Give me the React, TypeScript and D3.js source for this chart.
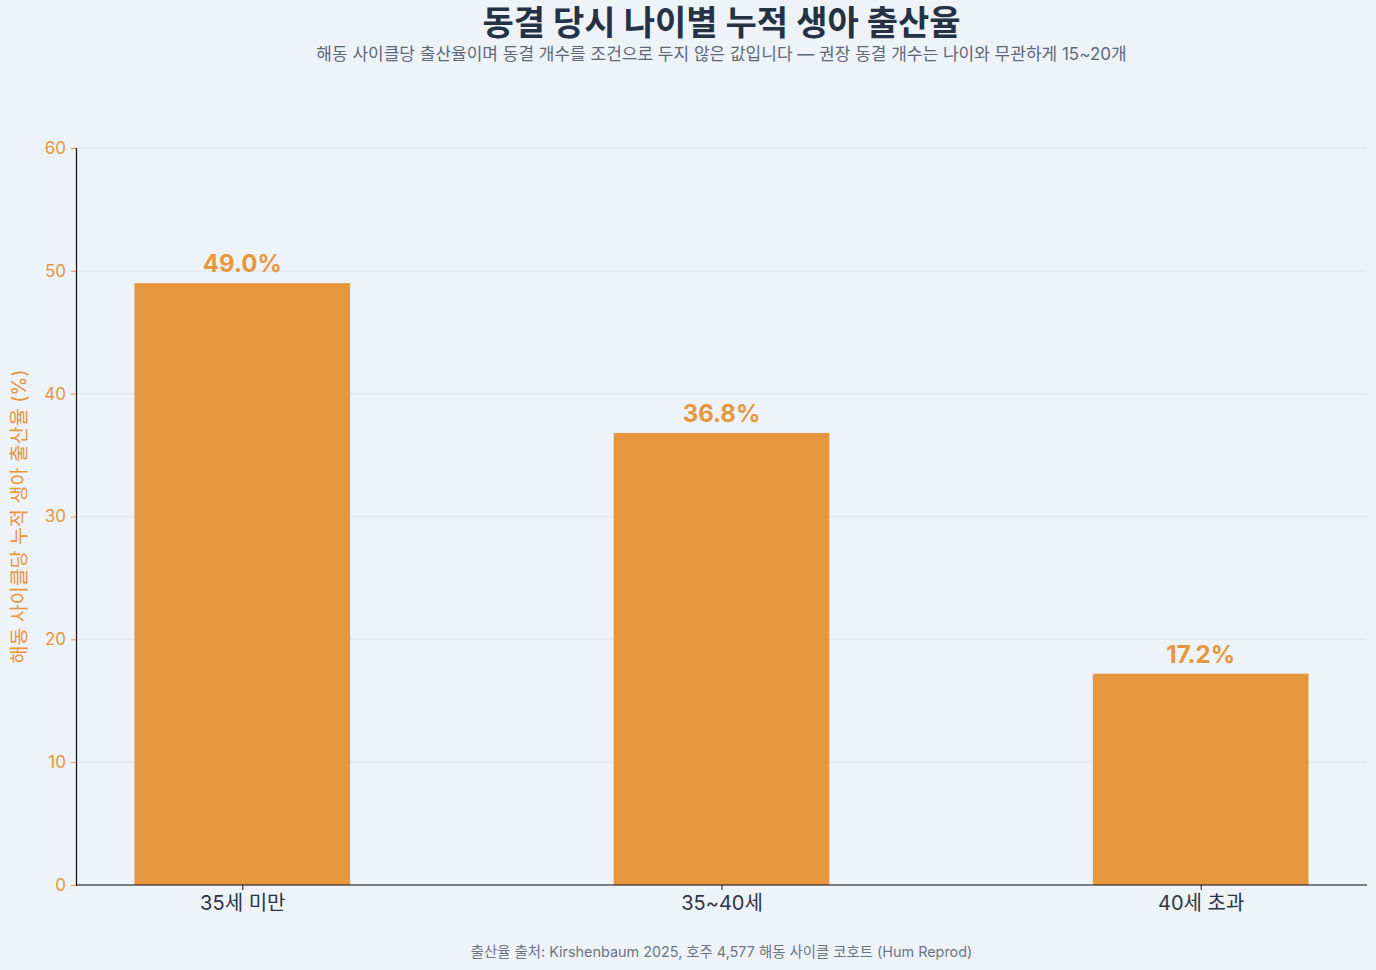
import React from 'react'
import * as d3 from 'd3'

const categories = ['35세 미만', '35~40세', '40세 초과']
const birthRates = [49.0, 36.8, 17.2]
const yTicks = [0, 10, 20, 30, 40, 50, 60]

const title = '동결 당시 나이별 누적 생아 출산율'
const subtitle = '해동 사이클당 출산율이며 동결 개수를 조건으로 두지 않은 값입니다 — 권장 동결 개수는 나이와 무관하게 15~20개'
const yLabel = '해동 사이클당 누적 생아 출산율 (%)'
const footer = '출산율 출처: Kirshenbaum 2025, 호주 4,577 해동 사이클 코호트 (Hum Reprod)'

const FONT = "Inter, 'Noto Sans CJK KR', 'Noto Sans', sans-serif"
const ORANGE = '#e6963c'

const App = () => {
  const ref = React.useRef<SVGSVGElement | null>(null)

  React.useEffect(() => {
    const width = 1376
    const height = 970
    const margin = { top: 148, right: 9, bottom: 85, left: 76 }

    const svg = d3.select(ref.current)
    svg.selectAll('*').remove()

    svg.append('rect').attr('width', width).attr('height', height).attr('fill', '#eef2f9')

    const x = d3
      .scalePoint<string>()
      .domain(categories)
      .range([margin.left, width - margin.right])
      .padding(0.347)

    const y = d3
      .scaleLinear()
      .domain([0, 60])
      .range([height - margin.bottom, margin.top])

    const barW = x.step() * 0.45
    const cx = (margin.left + width - margin.right) / 2

    // grid
    svg
      .append('g')
      .selectAll('line')
      .data(yTicks)
      .enter()
      .append('line')
      .attr('x1', margin.left)
      .attr('x2', width - margin.right)
      .attr('y1', (d) => y(d))
      .attr('y2', (d) => y(d))
      .attr('stroke', '#e1e6ef')
      .attr('stroke-width', 1)

    // bars
    svg
      .selectAll('.bar')
      .data(birthRates)
      .enter()
      .append('rect')
      .attr('class', 'bar')
      .attr('x', (d, i) => (x(categories[i]) || 0) - barW / 2)
      .attr('y', (d) => y(d))
      .attr('width', barW)
      .attr('height', (d) => y(0) - y(d))
      .attr('fill', ORANGE)

    // value labels
    svg
      .selectAll('.val')
      .data(birthRates)
      .enter()
      .append('text')
      .attr('class', 'val')
      .attr('x', (d, i) => x(categories[i]) || 0)
      .attr('y', (d) => y(d) - 11)
      .attr('text-anchor', 'middle')
      .attr('font-family', FONT)
      .attr('font-size', 24)
      .attr('font-weight', 700)
      .attr('fill', ORANGE)
      .text((d) => `${d.toFixed(1)}%`)

    // y axis
    const yAxis = svg
      .append('g')
      .attr('transform', `translate(${margin.left},0)`)
      .call(d3.axisLeft(y).tickValues(yTicks).tickSize(5).tickPadding(5))
    yAxis.select('.domain').attr('stroke', '#111').attr('stroke-width', 1.2)
    yAxis.selectAll('.tick line').attr('stroke', ORANGE)
    yAxis
      .selectAll('.tick text')
      .attr('fill', ORANGE)
      .attr('font-family', FONT)
      .attr('font-size', 17)

    // x axis
    const xAxis = svg
      .append('g')
      .attr('transform', `translate(0,${height - margin.bottom})`)
      .call(d3.axisBottom(x).tickSize(5).tickPadding(6))
    xAxis
      .select('.domain')
      .attr('d', `M${margin.left},0H${width - margin.right}`)
      .attr('stroke', '#111')
      .attr('stroke-width', 1.2)
    xAxis.selectAll('.tick line').attr('stroke', '#111')
    xAxis
      .selectAll('.tick text')
      .attr('fill', '#2a3545')
      .attr('font-family', FONT)
      .attr('font-size', 20)

    // y label
    svg
      .append('text')
      .attr('transform', `translate(26,${(y(0) + y(60)) / 2}) rotate(-90)`)
      .attr('text-anchor', 'middle')
      .attr('font-family', FONT)
      .attr('font-size', 19.5)
      .attr('fill', ORANGE)
      .text(yLabel)

    // title / subtitle / footer
    svg
      .append('text')
      .attr('x', cx)
      .attr('y', 35)
      .attr('text-anchor', 'middle')
      .attr('font-family', FONT)
      .attr('font-size', 34)
      .attr('font-weight', 700)
      .attr('fill', '#253243')
      .text(title)

    svg
      .append('text')
      .attr('x', cx)
      .attr('y', 60)
      .attr('text-anchor', 'middle')
      .attr('font-family', FONT)
      .attr('font-size', 17)
      .attr('fill', '#5c6878')
      .text(subtitle)

    svg
      .append('text')
      .attr('x', cx)
      .attr('y', 957)
      .attr('text-anchor', 'middle')
      .attr('font-family', FONT)
      .attr('font-size', 14.4)
      .attr('fill', '#6b7685')
      .text(footer)
  }, [])

  return (
    <svg
      ref={ref}
      width={1376}
      height={970}
      style={{ position: 'absolute', left: 0, top: 0 }}
    ></svg>
  )
}

export default App
